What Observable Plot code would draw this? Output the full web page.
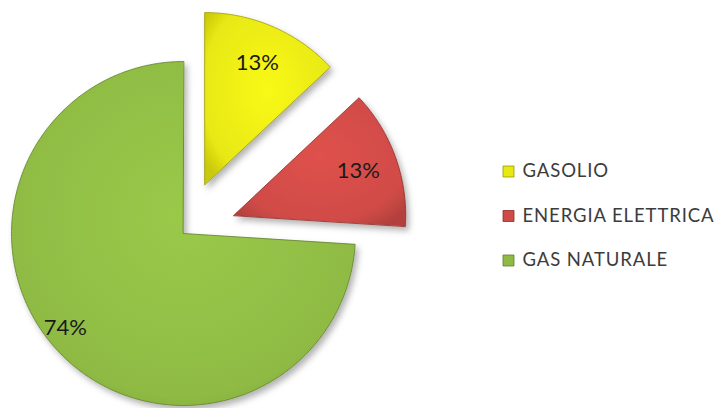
<!DOCTYPE html>
<html>
<head>
<meta charset="utf-8">
<script src="https://cdn.jsdelivr.net/npm/d3@7"></script>
<script src="https://cdn.jsdelivr.net/npm/@observablehq/plot@0.6"></script>
<style>
  html, body { margin: 0; padding: 0; background: #ffffff; }
  #chart { width: 717px; height: 408px; }
</style>
</head>
<body>
<div id="chart"></div>
<script>
// ---- data ----
const categories = ["GASOLIO", "ENERGIA ELETTRICA", "GAS NATURALE"];
const values = [13, 13, 74];
const valueLabels = ["13%", "13%", "74%"];
const colors = ["#E8E812", "#D04B47", "#8FBB44"];
const edgeColors = ["#9A9A00", "#8E2A27", "#5E7E2A"];

// ---- layout (pixels) ----
const W = 717, H = 408;
const cxPx = 183, cyPx = 233, rPx = 172;       // pie centre & radius
const explodeDist = 0.31;                       // in radius units

// unit-space scales: radius = 1, centre = (0,0), y up
const xDomain = [-cxPx / rPx, (W - cxPx) / rPx];
const yDomain = [(cyPx - H) / rPx, cyPx / rPx];

const arcs = d3.pie().sort(null).value(d => d)(values);
const total = d3.sum(values);

const slicePoints = [];
const labelRows = [];
arcs.forEach((a, i) => {
  const mid = (a.startAngle + a.endAngle) / 2;
  const exploded = values[i] / total < 0.5;
  const ox = exploded ? explodeDist * Math.sin(mid) : 0;
  const oy = exploded ? explodeDist * Math.cos(mid) : 0;
  slicePoints.push({name: categories[i], x: ox, y: oy});
  const steps = Math.max(8, Math.ceil((a.endAngle - a.startAngle) / (Math.PI / 360)));
  for (let k = 0; k <= steps; k++) {
    const t = a.startAngle + (a.endAngle - a.startAngle) * k / steps;
    slicePoints.push({name: categories[i], x: ox + Math.sin(t), y: oy + Math.cos(t)});
  }
  const lr = exploded ? 0.77 : 0.88;
  const la = exploded ? mid : mid + 0.08;
  labelRows.push({name: categories[i], label: valueLabels[i], x: ox + lr * Math.sin(la), y: oy + lr * Math.cos(la)});
});

// legend rows (unit coordinates derived from pixel layout)
const legendX = (508 - cxPx) / rPx;
const legendTextX = (522 - cxPx) / rPx;
const legendRows = categories.map((c, i) => ({
  name: c,
  y: (cyPx - (171 + i * 44.5)) / rPx
}));

const sliceMarks = categories.map((c, i) =>
  Plot.line(slicePoints.filter(d => d.name === c), {
    x: "x", y: "y",
    curve: "linear-closed",
    fill: colors[i],
    stroke: edgeColors[i],
    strokeWidth: 0.8
  })
);

const chart = Plot.plot({
  width: W,
  height: H,
  margin: 0,
  x: {domain: xDomain, range: [0, W], axis: null},
  y: {domain: yDomain, range: [H, 0], axis: null},
  style: {background: "#ffffff", overflow: "visible"},
  marks: [
    ...sliceMarks,
    Plot.text(labelRows, {
      x: "x", y: "y", text: "label",
      fontSize: 22, fill: "#1a1a1a",
      fontFamily: "Lato, 'Open Sans', sans-serif"
    }),
    Plot.dot(legendRows, {
      x: () => legendX, y: "y",
      symbol: "square", r: 6.2,
      fill: (d) => colors[categories.indexOf(d.name)],
      stroke: (d) => edgeColors[categories.indexOf(d.name)],
      strokeWidth: 0.8
    }),
    Plot.text(legendRows, {
      x: () => legendTextX, y: "y", text: "name",
      textAnchor: "start",
      fontSize: 18.5, fill: "#3c3c3c",
      fontFamily: "Lato, 'Open Sans', sans-serif"
    })
  ]
});

// gradients & shadow defs
const svgSel = d3.select(chart);
const defs = svgSel.insert("defs", ":first-child");
const f = defs.append("filter").attr("id", "pieShadow")
  .attr("x", "-20%").attr("y", "-20%").attr("width", "140%").attr("height", "140%");
f.append("feDropShadow").attr("dx", 3).attr("dy", 4).attr("stdDeviation", 3)
  .attr("flood-color", "#000").attr("flood-opacity", 0.3);
const lineGroups = svgSel.selectAll("g[aria-label=line]").nodes();
categories.forEach((c, i) => {
  const rg = defs.append("radialGradient").attr("id", "grad" + i)
    .attr("cx", "50%").attr("cy", "45%").attr("r", "65%");
  rg.append("stop").attr("offset", "0%").attr("stop-color", d3.color(colors[i]).brighter(0.2).formatHex());
  rg.append("stop").attr("offset", "80%").attr("stop-color", colors[i]);
  rg.append("stop").attr("offset", "100%").attr("stop-color", d3.color(colors[i]).darker(0.4).formatHex());
  if (lineGroups[i]) {
    d3.select(lineGroups[i]).attr("fill", `url(#grad${i})`).attr("filter", "url(#pieShadow)");
    d3.select(lineGroups[i]).selectAll("path").attr("fill", `url(#grad${i})`);
  }
});
const textGroups = svgSel.selectAll("g[aria-label=text]").nodes();
if (textGroups[1]) d3.select(textGroups[1]).style("letter-spacing", "0.9px");
document.getElementById("chart").appendChild(chart);
</script>
</body>
</html>
